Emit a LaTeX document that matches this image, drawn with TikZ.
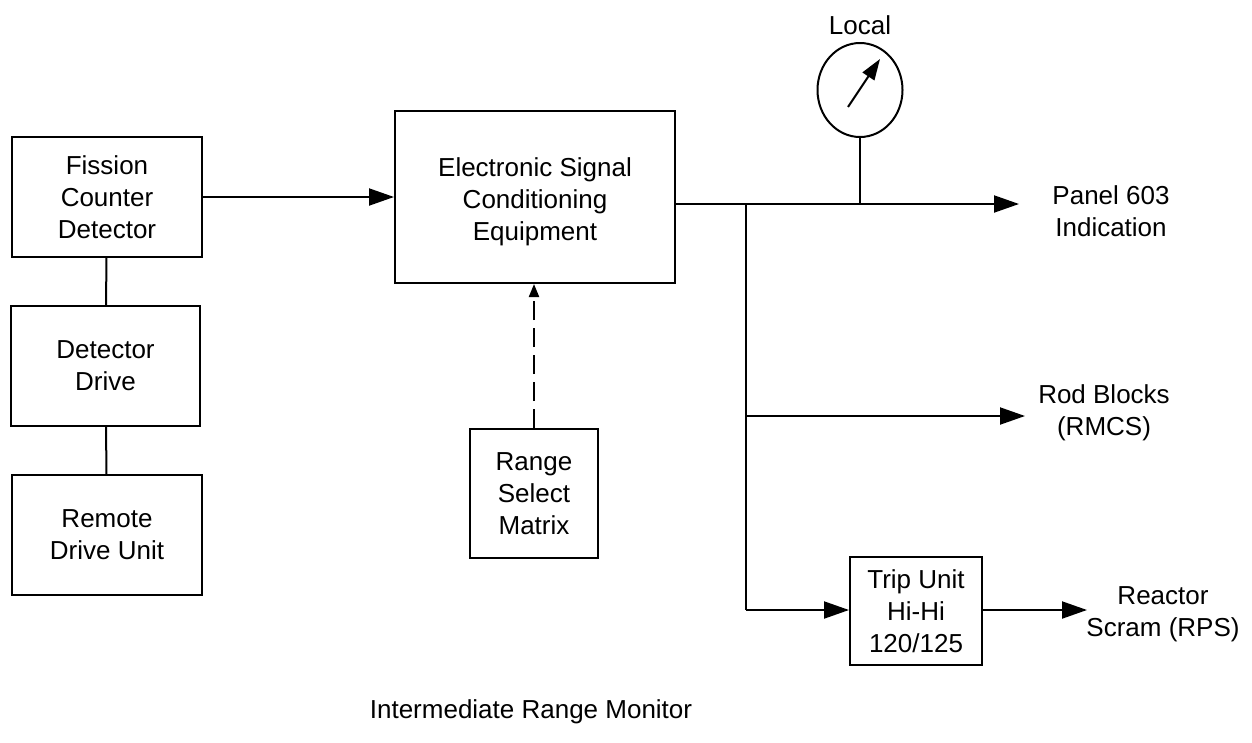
\documentclass[tikz,border=0pt]{standalone}
\usepackage{fontspec}
\setmainfont{Liberation Sans}
\usetikzlibrary{arrows.meta,shapes.geometric}
\begin{document}
\begin{tikzpicture}[x=1pt,y=-1pt,
  line width=2pt,
  every node/.style={font=\fontsize{26}{32}\selectfont, align=center, inner sep=0pt},
  blockbox/.style={draw, rectangle, line width=2pt},
  lbl/.style={},
  arr/.style={-{Triangle[length=25pt,width=17pt]}},
  darr/.style={-{Triangle[length=13pt,width=10pt]}, dash pattern=on 19pt off 8pt},
  narr/.style={-{Triangle[length=21pt,width=14pt]}}]
\useasboundingbox (0,0) rectangle (1252,742);
\node[blockbox, minimum width=190pt, minimum height=120pt] (fission) at (107,197) {Fission\\Counter\\Detector};
\node[blockbox, minimum width=189pt, minimum height=120pt] (drive) at (105.5,366) {Detector\\Drive};
\node[blockbox, minimum width=190pt, minimum height=120pt] (remote) at (107,535) {Remote\\Drive Unit};
\node[blockbox, minimum width=280pt, minimum height=172pt,
  label={[lbl, yshift=-5pt]center:{Electronic Signal\\Conditioning\\Equipment}}] (esc) at (535,197) {};
\node[blockbox, minimum width=128pt, minimum height=129pt] (range) at (534,493.5) {Range\\Select\\Matrix};
\node[blockbox, minimum width=132pt, minimum height=108pt] (trip) at (916,611) {Trip Unit\\Hi-Hi\\120/125};
\node[draw, ellipse, minimum width=85pt, minimum height=94pt, line width=2pt] (meter) at (860,90) {};
\node[lbl] (local) at (860,25) {Local};
\node[lbl] (panel) at (1111,211) {Panel 603\\Indication};
\node[lbl] (rod) at (1104,413) {Rod Blocks\\(RMCS)};
\node[lbl] (scram) at (1163,614) {Reactor\\Scram (RPS)};
\node[lbl] (title) at (531,712) {Intermediate Range Monitor};
\coordinate (j1) at (746,204);
\coordinate (j2) at (746,416);
\coordinate (j3) at (746,610);
\coordinate (panelend) at (1019,204);
\coordinate (rodend) at (1025,416);
\coordinate (scramend) at (1087,610);
\coordinate (ntail) at (848,107);
\coordinate (nhead) at (880,59);
\draw (fission) -- (drive);
\draw (drive) -- (remote);
\draw[arr] (fission.east) -- (esc.west);
\draw[darr] (range.north) -- (esc.south -| range.north);
\draw[arr] (esc.east |- j1) -- (panelend);
\draw (meter.south) -- (meter.south |- j1);
\draw (j1) -- (j3);
\draw[arr] (j2) -- (rodend);
\draw[arr] (j3) -- (trip.west |- j3);
\draw[arr] (trip.east |- j3) -- (scramend);
\draw[narr] (ntail) -- (nhead);
\end{tikzpicture}
\end{document}
